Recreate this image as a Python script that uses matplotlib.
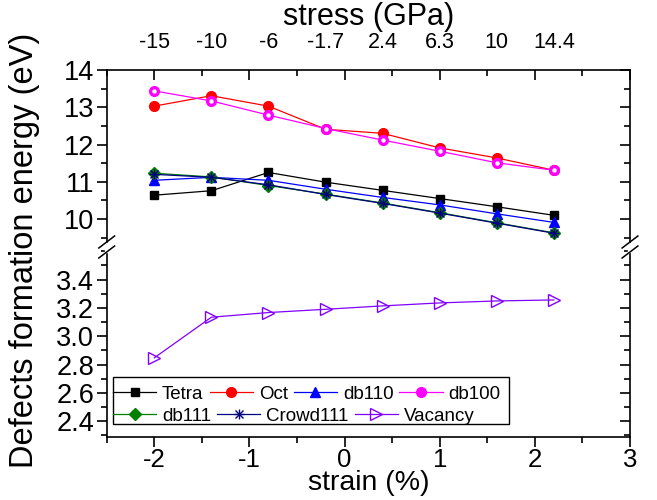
import numpy as np
import matplotlib
matplotlib.use("Agg")
import matplotlib.pyplot as plt

plt.rcParams['font.family'] = ['Liberation Sans', 'DejaVu Sans']
plt.rcParams['axes.unicode_minus'] = False

strain = [-2.0, -1.4, -0.8, -0.2, 0.4, 1.0, 1.6, 2.2]
stress_labels = ['-15', '-10', '-6', '-1.7', '2.4', '6.3', '10', '14.4']

tetra = [10.64, 10.76, 11.25, 10.99, 10.77, 10.55, 10.33, 10.10]
octa = [13.03, 13.31, 13.03, 12.41, 12.30, 11.91, 11.64, 11.31]
db110 = [11.04, 11.12, 11.04, 10.80, 10.58, 10.38, 10.14, 9.91]
db100 = [13.44, 13.17, 12.79, 12.43, 12.12, 11.82, 11.51, 11.31]
db111 = [11.23, 11.13, 10.90, 10.67, 10.43, 10.17, 9.90, 9.63]
crowd111 = [11.20, 11.12, 10.92, 10.66, 10.42, 10.16, 9.89, 9.62]
vacancy = [2.847, 3.134, 3.167, 3.190, 3.214, 3.235, 3.249, 3.256]

fig = plt.figure(figsize=(6.57, 5), dpi=100)
L, W = 0.1624, 0.7965
ax1 = fig.add_axes([L, 0.506, W, 0.354])
ax2 = fig.add_axes([L, 0.1266, W, 0.3794])

lw = 0.9
h_tetra, = ax1.plot(strain, tetra, color='black', lw=lw, marker='s', ms=6, label='Tetra')
h_oct, = ax1.plot(strain, octa, color='red', lw=lw, marker='o', ms=7, label='Oct')
h_db110, = ax1.plot(strain, db110, color='blue', lw=lw, marker='^', ms=7.5, label='db110')
h_db100, = ax1.plot(strain, db100, color='magenta', lw=lw, marker='o', ms=7, label='db100')
ax1.plot(strain, db100, ls='none', marker='o', ms=2.2, color='white')
h_db111, = ax1.plot(strain, db111, color='green', lw=lw, marker='D', ms=6, label='db111')
h_crowd, = ax1.plot(strain, crowd111, color='#000080', lw=lw, marker='x', ms=6, mew=1.0,
                    label='Crowd111')
h_crowd2, = ax1.plot(strain, crowd111, ls='none', marker='+', ms=7, mew=1.0, color='#000080')
h_vac, = ax2.plot(strain, vacancy, color='#8000ff', lw=lw, marker='>', ms=8,
                  mfc='none', mew=1.0, label='Vacancy')

for ax in (ax1, ax2):
    ax.set_xlim(-2.5, 3)
    for s in ax.spines.values():
        s.set_linewidth(1.2)
ax1.set_ylim(9.25, 14)
ax2.set_ylim(2.29, 3.63)
ax1.spines['bottom'].set_visible(False)
ax2.spines['top'].set_visible(False)

ax1.set_yticks([10, 11, 12, 13, 14])
ax1.set_yticks(np.arange(9.5, 14.01, 0.5), minor=True)
ax2.set_yticks([2.4, 2.6, 2.8, 3.0, 3.2, 3.4])
ax2.set_yticklabels(['2.4', '2.6', '2.8', '3.0', '3.2', '3.4'])
ax2.set_yticks(np.arange(2.3, 3.61, 0.1), minor=True)
ax2.set_xticks([-2, -1, 0, 1, 2, 3])
ax2.set_xticks(np.arange(-2.5, 3.01, 0.5), minor=True)
ax1.set_xticks(np.arange(-2, 3.01, 1))
ax1.set_xticks(np.arange(-2.5, 3.01, 0.5), minor=True)

fs = 19.5
ax1.tick_params(axis='x', which='both', bottom=False, top=True, labelbottom=False,
                labeltop=False, direction='in', width=1.2)
ax1.tick_params(axis='x', which='major', length=7)
ax1.tick_params(axis='x', which='minor', length=4)
for ax in (ax1, ax2):
    ax.tick_params(axis='y', which='both', direction='out', labelsize=fs, right=False, pad=2,
                   width=1.2)
    ax.tick_params(axis='y', which='major', length=7)
    ax.tick_params(axis='y', which='minor', length=4)
    # right-side inward ticks
    tw = ax.twinx()
    tw.set_ylim(ax.get_ylim())
    tw.set_yticks(ax.get_yticks())
    tw.set_yticks(ax.get_yticks(minor=True), minor=True)
    tw.tick_params(axis='y', which='both', direction='in', left=False, labelleft=False,
                   labelright=False, width=1.2)
    tw.tick_params(axis='y', which='major', length=7)
    tw.tick_params(axis='y', which='minor', length=4)
    for s in tw.spines.values():
        s.set_visible(False)
ax2.tick_params(axis='x', which='both', direction='out', top=False, labelsize=18.5, width=1.2,
                pad=1)
ax2.tick_params(axis='x', which='major', length=7)
ax2.tick_params(axis='x', which='minor', length=4)

# top stress labels, placed at the strain points
for x, lab in zip(strain, stress_labels):
    ax1.annotate(lab, xy=(x, 1), xycoords=ax1.get_xaxis_transform(), xytext=(0, 12),
                 textcoords='offset points', ha='center', va='bottom', fontsize=15.5)
fig.text(L + W / 2, 0.966, 'stress (GPa)', ha='center', va='center', fontsize=22)

ax2.set_xlabel('strain (%)', fontsize=20.5, labelpad=-1)
fig.text(0.038, 0.5, 'Defects formation energy (eV)', rotation=90, fontsize=23.5,
         ha='center', va='center')

# break marks
for xa in (0, 1):
    fig.patches.append(plt.Rectangle((L + xa * W - 0.003, 0.497), 0.006, 0.018,
                                     color='white', transform=fig.transFigure, zorder=0))
    for dy in (-0.01, 0.01):
        fig.lines.append(plt.Line2D([L + xa * W - 0.012, L + xa * W + 0.012],
                                    [0.506 + dy - 0.012, 0.506 + dy + 0.012],
                                    color='black', lw=1.1, transform=fig.transFigure))

# legend: two rows laid out independently inside one box
lkw = dict(loc='center left', borderaxespad=0, borderpad=0, fontsize=13.5, frameon=False,
           handlelength=2.3, handletextpad=0.32, columnspacing=0.32)
leg1 = ax2.legend([h_tetra, h_oct, h_db110, h_db100], ['Tetra', 'Oct', 'db110', 'db100'],
                  ncol=4, bbox_to_anchor=(0.012, 0.225), **lkw)
ax2.add_artist(leg1)
ax2.legend([h_db111, (h_crowd, h_crowd2), h_vac], ['db111', 'Crowd111', 'Vacancy'],
           ncol=3, bbox_to_anchor=(0.012, 0.107), **lkw)
ax2.add_patch(plt.Rectangle((0.0126, 0.0654), 0.7562, 0.2476, transform=ax2.transAxes,
                            fill=False, edgecolor='black', lw=1.0, zorder=5))

fig.savefig('out.png', dpi=100)
